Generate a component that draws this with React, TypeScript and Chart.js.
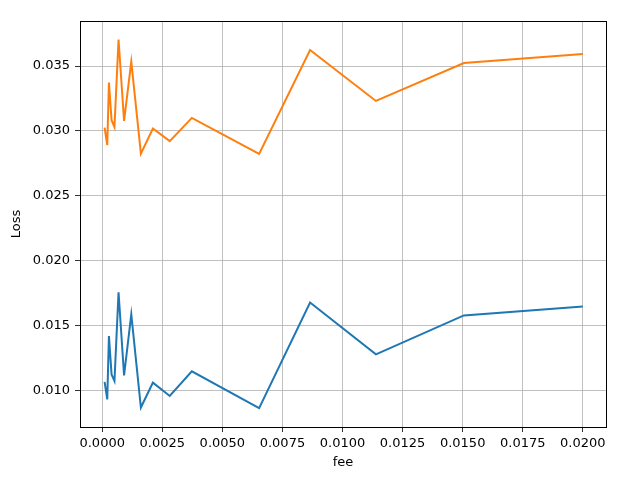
import React, { useEffect, useRef } from "react";
import { Chart, registerables } from "chart.js";

Chart.register(...registerables);

const fees = [0.0001, 0.00021, 0.00028, 0.00039, 0.00051, 0.00068, 0.00091, 0.00121, 0.00161, 0.00211, 0.00281, 0.00373, 0.00653, 0.00865, 0.01139, 0.01505, 0.02];
const lossBlue = [0.01064, 0.0093, 0.01418, 0.01121, 0.01072, 0.01756, 0.01115, 0.01585, 0.00867, 0.01059, 0.00956, 0.01146, 0.00862, 0.01677, 0.01277, 0.01577, 0.01646];
const lossOrange = [0.03025, 0.0289, 0.03372, 0.03082, 0.0303, 0.03705, 0.03077, 0.03533, 0.02825, 0.03018, 0.02921, 0.0310, 0.02823, 0.03623, 0.03231, 0.03523, 0.03592];
const xTicks = [0, 0.0025, 0.005, 0.0075, 0.01, 0.0125, 0.015, 0.0175, 0.02];
const yTicks = [0.01, 0.015, 0.02, 0.025, 0.03, 0.035];

const FONT = "'DejaVu Sans', sans-serif";

export default function App() {
  const ref = useRef<HTMLCanvasElement>(null);
  useEffect(() => {
    const frame = {
      id: "frame",
      afterDraw(chart: any) {
        const { ctx, chartArea: a } = chart;
        ctx.save();
        ctx.strokeStyle = "#000";
        ctx.lineWidth = 1;
        ctx.strokeRect(Math.round(a.left) + 0.5, Math.round(a.top) + 0.5, Math.round(a.right - a.left), Math.round(a.bottom - a.top));
        ctx.restore();
      },
    };
    const chart = new Chart(ref.current!, {
      type: "line",
      data: {
        datasets: [
          {
            data: fees.map((x, i) => ({ x, y: lossBlue[i] })),
            borderColor: "#1f77b4",
            borderWidth: 2,
            pointRadius: 0,
            tension: 0,
          },
          {
            data: fees.map((x, i) => ({ x, y: lossOrange[i] })),
            borderColor: "#ff7f0e",
            borderWidth: 2,
            pointRadius: 0,
            tension: 0,
          },
        ],
      },
      options: {
        animation: false,
        responsive: false,
        layout: { padding: { top: 21, right: 34, left: 0, bottom: 0 } },
        plugins: { legend: { display: false }, tooltip: { enabled: false } },
        scales: {
          x: {
            type: "linear",
            min: -0.000924,
            max: 0.020965,
            afterBuildTicks: (s: any) => { s.ticks = xTicks.map((v) => ({ value: v })); },
            afterFit: (s: any) => { s.height = 53; },
            grid: { color: "#b0b0b0", lineWidth: 0.8, tickColor: "#000", tickLength: 5, drawTicks: true },
            border: { display: false },
            ticks: { color: "#000", font: { family: FONT, size: 13 }, padding: 4, maxRotation: 0, autoSkip: false, callback: (v: any) => Number(v).toFixed(4) },
            title: { display: true, text: "fee", color: "#000", font: { family: FONT, size: 13 }, padding: { top: 0, bottom: 10 } },
          },
          y: {
            type: "linear",
            min: 0.007168,
            max: 0.038472,
            afterBuildTicks: (s: any) => { s.ticks = yTicks.map((v) => ({ value: v })); },
            afterFit: (s: any) => { s.width = 80; },
            grid: { color: "#b0b0b0", lineWidth: 0.8, tickColor: "#000", tickLength: 5, drawTicks: true },
            border: { display: false },
            ticks: { color: "#000", font: { family: FONT, size: 13 }, padding: 5, autoSkip: false, callback: (v: any) => Number(v).toFixed(3) },
            title: { display: true, text: "Loss", color: "#000", font: { family: FONT, size: 13 }, padding: { top: 9, bottom: 0 } },
          },
        },
      },
      plugins: [frame],
    });
    return () => chart.destroy();
  }, []);
  return (
    <div style={{ position: "absolute", left: 0, top: 0, width: 640, height: 480, background: "#fff" }}>
      <canvas ref={ref} width={640} height={480} />
    </div>
  );
}
